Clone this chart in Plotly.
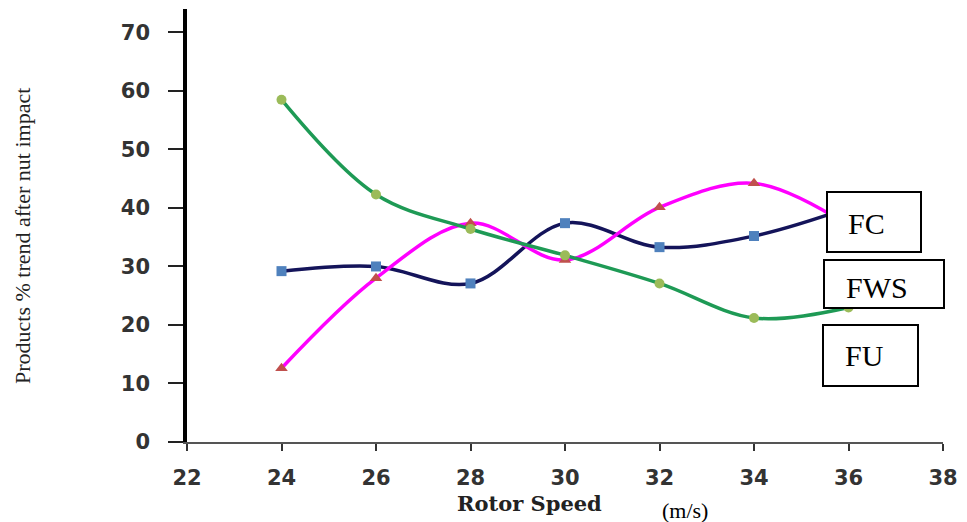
import plotly.graph_objects as go

speed = [24, 26, 28, 30, 32, 34, 36]
fws = [29.2, 30.0, 27.1, 37.4, 33.3, 35.2, 40.0]
fc = [12.6, 28.0, 37.4, 31.1, 40.1, 44.2, 37.0]
fu = [58.5, 42.3, 36.4, 31.9, 27.1, 21.2, 23.0]
x_ticks = [22, 24, 26, 28, 30, 32, 34, 36, 38]
y_ticks = [0, 10, 20, 30, 40, 50, 60, 70]

# page body has an 8px margin; figure is sized to fit inside the window
OFF = 8
W, H = 959, 514
L, R, T, B = 179, 24, 1, 80
PW, PH = W - L - R, H - T - B


def px(x):
    return (x - OFF - L) / PW


def py(y):
    return (H - B - (y - OFF)) / PH


fig = go.Figure()
fig.add_trace(go.Scatter(x=speed, y=fws, mode="lines+markers", name="FWS",
                         line=dict(color="#14145a", width=3.5, shape="spline", smoothing=1.0),
                         marker=dict(symbol="square", size=10, color="#4f81bd")))
fig.add_trace(go.Scatter(x=speed, y=fc, mode="lines+markers", name="FC",
                         line=dict(color="#ff00ff", width=3.5, shape="spline", smoothing=1.0),
                         marker=dict(symbol="triangle-up", size=11, color="#c0504d")))
fig.add_trace(go.Scatter(x=speed, y=fu, mode="lines+markers", name="FU",
                         line=dict(color="#1e9a55", width=3.5, shape="spline", smoothing=1.0),
                         marker=dict(symbol="circle", size=10, color="#9bbb59")))

boxes = [(827, 192, 921, 252), (824, 260, 944, 308), (823, 325, 918, 386)]
for x0, y0, x1, y1 in boxes:
    fig.add_shape(type="rect", xref="paper", yref="paper",
                  x0=px(x0), x1=px(x1), y0=py(y1), y1=py(y0),
                  fillcolor="white", line=dict(color="black", width=2), layer="above")

labels = [("FC", 846, 223), ("FWS", 844, 287), ("FU", 843, 355)]
for txt, lx, ly in labels:
    fig.add_annotation(text=txt, xref="paper", yref="paper", x=px(lx), y=py(ly),
                       xanchor="left", yanchor="middle", showarrow=False,
                       font=dict(family="Liberation Serif", size=30, color="black"))

fig.add_annotation(text="Products % trend after nut impact", xref="paper", yref="paper",
                   x=px(22), y=py(236), textangle=-90, showarrow=False,
                   xanchor="center", yanchor="middle",
                   font=dict(family="Liberation Serif", size=22, color="#222"))
fig.add_annotation(text="<b>Rotor Speed</b>", xref="paper", yref="paper",
                   x=px(529), y=py(503), showarrow=False, xanchor="center", yanchor="middle",
                   font=dict(family="DejaVu Serif", size=21, color="#222"))
fig.add_annotation(text="(m/s)", xref="paper", yref="paper",
                   x=px(685), y=py(510), showarrow=False, xanchor="center", yanchor="middle",
                   font=dict(family="Liberation Serif", size=22, color="black"))

tick_font = dict(family="DejaVu Sans", size=21, color="#333", weight="bold")
fig.update_layout(
    width=W, height=H, margin=dict(l=L, r=R, t=T, b=B),
    paper_bgcolor="white", plot_bgcolor="white", showlegend=False,
    xaxis=dict(range=[22, 38], tickvals=x_ticks, showgrid=False, zeroline=False,
               showline=True, linecolor="#555", linewidth=1.5,
               ticks="outside", ticklen=7, tickwidth=2, tickcolor="#333",
               ticklabelstandoff=9, tickfont=tick_font),
    yaxis=dict(range=[0, 74], tickvals=y_ticks, showgrid=False, zeroline=False,
               showline=True, linecolor="black", linewidth=3.5,
               ticks="outside", ticklen=15, tickwidth=1.5, tickcolor="#222",
               ticklabelstandoff=14, tickfont=tick_font),
)
fig.write_html("out.html")
